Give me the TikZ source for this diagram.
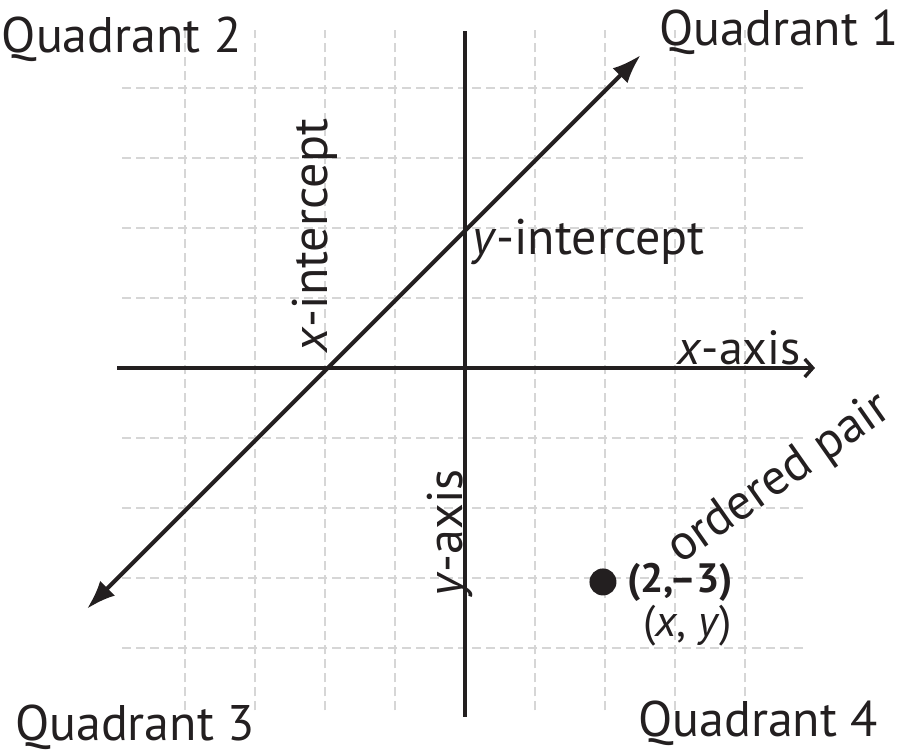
\documentclass[tikz,border=0pt]{standalone}
\usepackage{fontspec}
\setmainfont{PT Sans}
\usetikzlibrary{arrows.meta}
\definecolor{ink}{HTML}{231F20}
\definecolor{gridc}{HTML}{D6D6D6}
\begin{document}
\begin{tikzpicture}[x=70pt,y=70pt,
  lbl/.style={inner sep=0pt, text=ink, font=\fontsize{50}{60}\selectfont},
  gridline/.style={draw=gridc, line width=1.3pt, dash pattern=on 9pt off 5pt},
  axisline/.style={draw=ink, line width=3.4pt},
  mainline/.style={draw=ink, line width=4pt}]
\useasboundingbox (-6.643,-5.514) rectangle (6.243,5.257);
% grid
\foreach \i in {-4,-3,-2,-1,1,2,3,4} {
  \draw[gridline] (-4.9,\i) -- (4.9,\i);
  \draw[gridline] (\i,-4.89) -- (\i,4.83);
}
% axes
\coordinate (xl) at (-4.97,0);
\coordinate (xr) at (5.0,0);
\coordinate (yt) at (0,4.81);
\coordinate (yb) at (0,-4.99);
\draw[axisline] (yt) -- (yb);
\draw[axisline, -{Straight Barb[length=8pt,width=18pt]}] (xl) -- (xr);
% line
\coordinate (lA) at (-5.40,-3.44);
\coordinate (lB) at (2.51,4.47);
\draw[mainline, {Latex[length=29pt,width=21pt]}-{Latex[length=29pt,width=21pt]}] (lA) -- (lB);
% labels
\node[lbl, anchor=base west] (q2) at (-6.62,4.514) {Quadrant 2};
\node[lbl, anchor=base east] (q1) at (6.2,4.614) {Quadrant 1};
\node[lbl, anchor=base west] (q3) at (-6.43,-5.32) {Quadrant 3};
\node[lbl, anchor=base east] (q4) at (5.9,-5.27) {Quadrant 4};
\node[lbl, anchor=base west] (yint) at (0.1,1.614) {\textit{y}-intercept};
\node[lbl, font=\fontsize{48}{58}\selectfont, anchor=base west] (xax) at (3.03,0.043) {\textit{x}-axis};
\node[lbl, anchor=base west, rotate=90] (xint) at (-1.97,0.214) {\textit{x}-intercept};
\node[lbl, anchor=base west, rotate=90] (yax) at (-0.04,-3.27) {\textit{y}-axis};
\node[lbl, anchor=base west, rotate=35] (op) at (3.07,-2.81) {ordered pair};
\node[circle, fill=ink, minimum size=27pt, inner sep=0pt] (pt) at (1.971,-3.057) {};
\node[lbl, font=\fontsize{41}{48}\selectfont\bfseries, anchor=base west] (pair) at (2.314,-3.214) {(2,–3)};
\node[lbl, font=\fontsize{44}{52}\selectfont, anchor=base west] (xy) at (2.543,-3.843) {(\textit{x}, \textit{y})};
\end{tikzpicture}
\end{document}
